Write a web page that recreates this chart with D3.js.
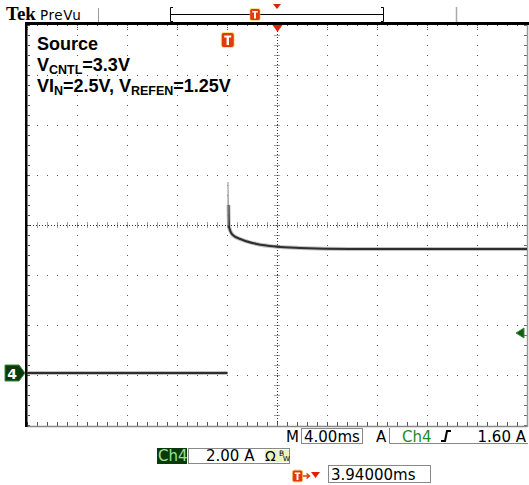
<!DOCTYPE html>
<html>
<head>
<meta charset="utf-8">
<script src="https://cdn.jsdelivr.net/npm/d3@7"></script>
<style>
  body { margin: 0; background: #fff; }
  svg { display: block; }
</style>
</head>
<body>
<div id="scope"></div>
<script>
// scope settings
const msPerDiv = 4.00;
const ampPerDiv = 2.00;
const triggerToCenterMs = 3.94;
const ch4OffsetDiv = -2.96;
const triggerLevelA = 1.60;

// Ch4 current trace, time in ms from trigger, current in A
const preTimeMs = [-16.06, -12, -8, -4, -0.02];
const preCurrentA = [0.0, 0.0, 0.0, 0.0, 0.0];
const edgeTimeMs = [0.01, 0.02, 0.06];
const edgeCurrentA = [5.9, 7.64, 6.72];
const postTimeMs = [0.06, 0.1, 0.4, 1.2, 2.32, 3.92, 5.76, 9.76, 14, 18, 23.94];
const postCurrentA = [6.72, 5.85, 5.52, 5.32, 5.16, 5.05, 5.0, 4.96, 4.96, 4.96, 4.96];

// text
const captionLines = [
  [["Source", 0]],
  [["V", 0], ["CNTL", 1], ["=3.3V", 0]],
  [["VI", 0], ["N", 1], ["=2.5V, V", 0], ["REFEN", 1], ["=1.25V", 0]]
];

const W = 529, H = 485;
const plot = {left: 27, right: 527, top: 25, bottom: 425};
const nx = 10, ny = 8;

let svg = d3.select("#scope")
    .append("svg")
    .attr("width", W)
    .attr("height", H);

svg.append("rect").attr("width", W).attr("height", H).attr("fill", "#fff");

let xDiv = d3.scaleLinear().domain([0, nx]).range([plot.left, plot.right]);
let yDiv = d3.scaleLinear().domain([0, ny]).range([plot.top, plot.bottom]);

let x = d3.scaleLinear()
    .domain([triggerToCenterMs - msPerDiv * nx / 2, triggerToCenterMs + msPerDiv * nx / 2])
    .range([plot.left, plot.right]);
let y = d3.scaleLinear()
    .domain([(-ny / 2 - ch4OffsetDiv) * ampPerDiv, (ny / 2 - ch4OffsetDiv) * ampPerDiv])
    .range([plot.bottom, plot.top]);

// GRID ____________________________________________________________
let grid = svg.append("g");
const minors = d3.range(0, nx * 5 + 1).map(i => i / 5);
const minorsY = d3.range(0, ny * 5 + 1).map(i => i / 5);

// dotted graticule lines
let dots = [];
for (let j = 1; j < ny; j++) {
  if (j === ny / 2) continue;
  minors.forEach(m => dots.push([Math.round(xDiv(m)), Math.round(yDiv(j))]));
}
for (let i = 1; i < nx; i++) {
  if (i === nx / 2) continue;
  minorsY.forEach(m => dots.push([Math.round(xDiv(i)), Math.round(yDiv(m))]));
}
grid.selectAll("rect.dot").data(dots).enter()
    .append("rect")
    .attr("class", "dot")
    .attr("x", d => d[0])
    .attr("y", d => d[1])
    .attr("width", 1)
    .attr("height", 1)
    .attr("fill", "#555");

// center cross with minor ticks
const cx = Math.round(xDiv(nx / 2)) + 0.5, cy = Math.round(yDiv(ny / 2)) + 0.5;
grid.append("line")
    .attr("x1", plot.left).attr("x2", plot.right).attr("y1", cy).attr("y2", cy)
    .attr("stroke", "#333").attr("stroke-dasharray", "1,2");
grid.append("line")
    .attr("x1", cx).attr("x2", cx).attr("y1", plot.top).attr("y2", plot.bottom)
    .attr("stroke", "#333").attr("stroke-dasharray", "1,2");
grid.selectAll("line.hx").data(minors.slice(1, -1)).enter()
    .append("line")
    .attr("x1", d => Math.round(xDiv(d)) + 0.5).attr("x2", d => Math.round(xDiv(d)) + 0.5)
    .attr("y1", cy - 3).attr("y2", cy + 3)
    .attr("stroke", "#444").attr("stroke-dasharray", "1,1");
grid.selectAll("line.vy").data(minorsY.slice(1, -1)).enter()
    .append("line")
    .attr("x1", cx - 3).attr("x2", cx + 3)
    .attr("y1", d => Math.round(yDiv(d)) + 0.5).attr("y2", d => Math.round(yDiv(d)) + 0.5)
    .attr("stroke", "#444").attr("stroke-dasharray", "1,1");

// border ticks
grid.selectAll("line.tt").data(minors).enter()
    .append("line")
    .attr("x1", d => Math.round(xDiv(d)) + 0.5).attr("x2", d => Math.round(xDiv(d)) + 0.5)
    .attr("y1", plot.top).attr("y2", d => plot.top + (Number.isInteger(d) ? 6 : 2))
    .attr("stroke", "#555").attr("stroke-dasharray", "1,1");
grid.selectAll("line.bt").data(minors).enter()
    .append("line")
    .attr("x1", d => Math.round(xDiv(d)) + 0.5).attr("x2", d => Math.round(xDiv(d)) + 0.5)
    .attr("y1", plot.bottom + 1).attr("y2", plot.bottom - 3)
    .attr("stroke", "#555");
grid.selectAll("line.lt").data(minorsY).enter()
    .append("line")
    .attr("x1", plot.left + 1).attr("x2", plot.left + 3)
    .attr("y1", d => Math.round(yDiv(d)) + 0.5).attr("y2", d => Math.round(yDiv(d)) + 0.5)
    .attr("stroke", "#555");
grid.selectAll("line.rt").data(minorsY).enter()
    .append("line")
    .attr("x1", plot.right).attr("x2", plot.right - 3)
    .attr("y1", d => Math.round(yDiv(d)) + 0.5).attr("y2", d => Math.round(yDiv(d)) + 0.5)
    .attr("stroke", "#666");

// bottom and right edges (gray)
grid.append("line")
    .attr("x1", plot.left).attr("x2", plot.right).attr("y1", plot.bottom + 1.5).attr("y2", plot.bottom + 1.5)
    .attr("stroke", "#888").attr("stroke-width", 1.5);
grid.append("line")
    .attr("x1", plot.right + 0.5).attr("x2", plot.right + 0.5).attr("y1", plot.top).attr("y2", plot.bottom + 2)
    .attr("stroke", "#999").attr("stroke-width", 1.5);

// top and left edges (black, thick)
svg.append("rect").attr("x", 25).attr("y", 22).attr("width", 504).attr("height", 3).attr("fill", "#000");
svg.append("rect").attr("x", 25).attr("y", 22).attr("width", 2.5).attr("height", 405).attr("fill", "#000");

// TRACE ___________________________________________________________
const pre = preTimeMs.map((t, i) => [t, preCurrentA[i]]);
const edge = edgeTimeMs.map((t, i) => [t, edgeCurrentA[i]]);
const post = postTimeMs.map((t, i) => [t, postCurrentA[i]]);

let line = d3.line()
    .x(d => x(d[0]))
    .y(d => y(d[1]))
    .curve(d3.curveMonotoneX);

let traceG = svg.append("g");
[pre, post].forEach(seg => {
  traceG.append("path").datum(seg)
      .attr("d", line)
      .attr("fill", "none")
      .attr("stroke", "#777")
      .attr("stroke-opacity", 0.45)
      .attr("stroke-width", 4);
  traceG.append("path").datum(seg)
      .attr("d", line)
      .attr("fill", "none")
      .attr("stroke", "#2e2e2e")
      .attr("stroke-width", 2);
});
traceG.append("path").datum(edge)
    .attr("d", d3.line().x(d => x(d[0])).y(d => y(d[1])))
    .attr("fill", "none")
    .attr("stroke", "#aaa")
    .attr("stroke-width", 1.2);

// CAPTION _________________________________________________________
let caption = svg.append("g")
    .style("font-family", "'Liberation Sans', Arial, sans-serif")
    .style("font-weight", "bold")
    .attr("fill", "#000");
const captionY = [50, 71, 92];
captionLines.forEach((parts, li) => {
  let t = caption.append("text").attr("x", 37).attr("y", captionY[li]);
  let prevSub = 0;
  parts.forEach(p => {
    t.append("tspan")
        .attr("dy", (p[1] - prevSub) * 2.5)
        .style("font-size", p[1] ? "12.5px" : "18px")
        .text(p[0]);
    prevSub = p[1];
  });
});

// MARKERS _________________________________________________________
function tMarker(g, cxm, cym, s) {
  let m = g.append("g").attr("transform", `translate(${cxm},${cym}) scale(${s})`);
  m.append("rect").attr("x", -7).attr("y", -8).attr("width", 14).attr("height", 16).attr("rx", 3)
      .attr("fill", "#f0d040").attr("opacity", 0.6);
  m.append("rect").attr("x", -6).attr("y", -7).attr("width", 12).attr("height", 14).attr("rx", 2)
      .attr("fill", "#e03a10");
  m.append("path").attr("d", "M-3.5,-4.5H3.5V-2.5H1.2V5H-1.2V-2.5H-3.5Z").attr("fill", "#fff");
}

// trigger point marker in the plot
tMarker(svg, x(0), 40, 1);
// trigger position triangle at top center
svg.append("path").attr("d", `M${cx - 5},25L${cx + 5},25L${cx},32Z`).attr("fill", "#e02000");

// ch4 ground marker
let gy = y(0);
let ch4m = svg.append("g").attr("transform", `translate(0,${gy})`);
ch4m.append("path").attr("d", "M5,-8H19L25,0L19,8H5Z").attr("fill", "#0c3a0c").attr("stroke", "#3c8c3c").attr("stroke-width", 1);
ch4m.append("text").attr("x", 12).attr("y", 5.5).attr("text-anchor", "middle")
    .style("font-family", "'DejaVu Sans', sans-serif").style("font-weight", "bold").style("font-size", "14px")
    .attr("fill", "#fff").text("4");

// trigger level marker on right
let ty = y(triggerLevelA);
svg.append("path").attr("d", `M516,${ty}L524,${ty - 5}V${ty + 5}Z`).attr("fill", "#145a14").attr("stroke", "#2f8f2f");

// HEADER __________________________________________________________
svg.append("text").attr("x", 6).attr("y", 20)
    .style("font-family", "'Liberation Serif', serif").style("font-weight", "bold").style("font-size", "19px")
    .text("Tek");
svg.append("text").attr("x", 40).attr("y", 20)
    .style("font-family", "'DejaVu Sans', sans-serif").style("font-size", "13.5px").style("letter-spacing", "0.6px")
    .text("PreVu");
svg.append("line").attr("x1", 98.5).attr("x2", 98.5).attr("y1", 8).attr("y2", 22).attr("stroke", "#999");

// record bar
let rec = svg.append("g").attr("stroke", "#000").attr("fill", "none");
rec.append("line").attr("x1", 171).attr("x2", 383).attr("y1", 14.5).attr("y2", 14.5);
rec.append("path").attr("d", "M173,7.5H170.5V21.5H173");
rec.append("path").attr("d", "M381,7.5H383.5V21.5H381");
svg.append("line").attr("x1", 456.5).attr("x2", 456.5).attr("y1", 7).attr("y2", 22).attr("stroke", "#aaa").attr("stroke-width", 1.5);
tMarker(svg, 255, 14.5, 0.8);
svg.append("path").attr("d", "M273,4L281,4L277,9Z").attr("fill", "#e02000");

// STATUS __________________________________________________________
let status = svg.append("g")
    .style("font-family", "'DejaVu Sans', sans-serif")
    .style("font-size", "15px")
    .attr("fill", "#000");

status.append("text").attr("x", 286).attr("y", 442).text("M");
status.append("rect").attr("x", 301.5).attr("y", 428.5).attr("width", 61).attr("height", 15)
    .attr("fill", "none").attr("stroke", "#888");
status.append("text").attr("x", 304).attr("y", 442).text(msPerDiv.toFixed(2) + "ms");
status.append("text").attr("x", 376).attr("y", 442).text("A");
status.append("path").attr("d", "M389.5,428V443.5H528").attr("fill", "none").attr("stroke", "#888");
status.append("text").attr("x", 402).attr("y", 442).attr("fill", "#1f8a1f").text("Ch4");
status.append("path").attr("d", "M441,441H445L447,431H451").attr("fill", "none").attr("stroke", "#000").attr("stroke-width", 2);
status.append("text").attr("x", 526).attr("y", 442).attr("text-anchor", "end").text(triggerLevelA.toFixed(2) + " A");

// row 2: channel scale
status.append("rect").attr("x", 157).attr("y", 448).attr("width", 30).attr("height", 16).attr("fill", "#0a3a0a");
status.append("text").attr("x", 158).attr("y", 461).attr("fill", "#9be09b").text("Ch4");
status.append("rect").attr("x", 188.5).attr("y", 448.5).attr("width", 101).attr("height", 15)
    .attr("fill", "none").attr("stroke", "#888");
status.append("text").attr("x", 206).attr("y", 461).text(ampPerDiv.toFixed(2) + " A");
status.append("rect").attr("x", 265).attr("y", 450).attr("width", 24).attr("height", 12).attr("fill", "#eaf5c0");
status.append("text").attr("x", 265).attr("y", 461).style("font-size", "14px").text("Ω");
status.append("text").attr("x", 279).attr("y", 456).style("font-size", "7.5px").text("B");
status.append("text").attr("x", 283).attr("y", 461).style("font-size", "7px").text("W");

// row 3: trigger offset
tMarker(svg, 297.5, 476, 0.8);
svg.append("path").attr("d", "M303,476H309M306.5,473.5L309.5,476L306.5,478.5").attr("stroke", "#e03a10").attr("fill", "none").attr("stroke-width", 1.5);
svg.append("path").attr("d", "M311,472L320,472L315.5,478Z").attr("fill", "#e02000");
status.append("rect").attr("x", 328.5).attr("y", 465.5).attr("width", 102).attr("height", 17)
    .attr("fill", "none").attr("stroke", "#888");
status.append("text").attr("x", 331).attr("y", 480).text(triggerToCenterMs.toFixed(5) + "ms");
</script>
</body>
</html>
